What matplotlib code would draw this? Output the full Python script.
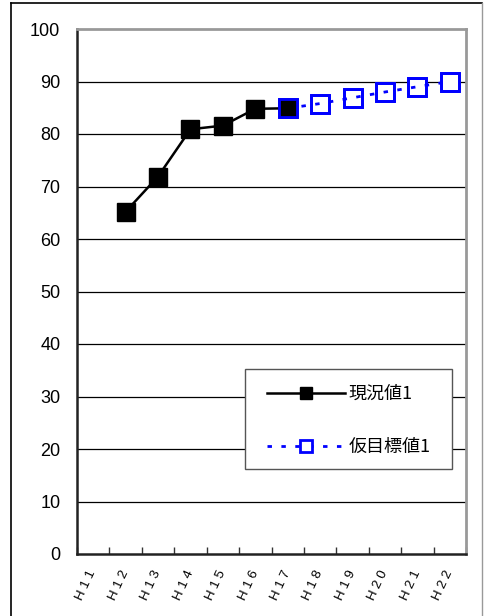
import matplotlib
matplotlib.use("Agg")
import matplotlib.pyplot as plt
from matplotlib.lines import Line2D
from matplotlib.patches import Rectangle
import numpy as np

# data
categories = ["H11", "H12", "H13", "H14", "H15", "H16", "H17",
              "H18", "H19", "H20", "H21", "H22"]
actual = [None, 65.2, 71.9, 80.9, 81.6, 84.8, 84.9, None, None, None, None, None]
target = [None, None, None, None, None, None, 84.9, 85.8, 86.9, 88.0, 89.0, 90.0]
series_names = ["現況値1", "仮目標値1"]
y_ticks = [0, 10, 20, 30, 40, 50, 60, 70, 80, 90, 100]

plt.rcParams["font.family"] = ["Liberation Sans", "DejaVu Sans"]
W, H = 484, 616
fig = plt.figure(figsize=(W / 100, H / 100), dpi=100)

# outer frame of the chart object
fig.add_artist(Line2D([11 / W, 11 / W], [0, 1 - 3 / H], transform=fig.transFigure,
                      color="black", lw=1.2))
fig.add_artist(Line2D([11 / W, 482 / W], [1 - 3 / H, 1 - 3 / H], transform=fig.transFigure,
                      color="black", lw=1.2))
fig.add_artist(Line2D([482 / W, 482 / W], [0, 1 - 3 / H], transform=fig.transFigure,
                      color="#999999", lw=1.0))

ax_l, ax_b, ax_w, ax_h = 77, 62, 389, 525
ax = fig.add_axes([ax_l / W, ax_b / H, ax_w / W, ax_h / H])

x = np.arange(len(categories))
a = np.array([np.nan if v is None else v for v in actual], dtype=float)
t = np.array([np.nan if v is None else v for v in target], dtype=float)

# gridlines
for yv in y_ticks[1:-1]:
    ax.axhline(yv, color="black", lw=0.9, zorder=0)

ms = 12.5
dash = (1.6, 3.4)
# target markers (white fill) and dotted line
ax.plot(x, t, linestyle="none", marker="s", ms=ms, mfc="white", mec="#0000ff",
        mew=2.0, zorder=2)
ax.plot(x, t, color="#0000ff", lw=2.0, dashes=dash, zorder=2.5)
# actual series
ax.plot(x, a, color="black", lw=1.8, marker="s", ms=ms, mfc="black", mec="black",
        zorder=3)
# target marker outlines on top
ax.plot(x, t, linestyle="none", marker="s", ms=ms, mfc="none", mec="#0000ff",
        mew=2.0, zorder=4)

ax.set_xlim(-0.5, len(categories) - 0.5)
ax.set_ylim(0, 100)

# category boundary ticks
ax.set_xticks(np.arange(-0.5, len(categories), 1.0))
ax.set_xticklabels([])
ax.tick_params(axis="x", which="major", direction="in", length=5, width=1, color="#333333")
ax.set_xticks(x, minor=True)
ax.set_xticklabels([])
ax.tick_params(axis="x", which="minor", length=0)

for xi, lab in zip(x, categories):
    ax.annotate(" ".join(lab), xy=(xi, 0), xycoords=("data", "axes fraction"),
                xytext=(0, -17), textcoords="offset pixels",
                rotation=65, rotation_mode="anchor", ha="right", va="center",
                fontsize=9.5, family=["Liberation Sans", "DejaVu Sans"])

ax.set_yticks(y_ticks)
ax.set_yticklabels([str(v) for v in y_ticks], fontsize=13)
ax.tick_params(axis="y", length=0, pad=12)

for side in ["top", "right"]:
    ax.spines[side].set_color("#999999")
    ax.spines[side].set_linewidth(2.0)
for side in ["left", "bottom"]:
    ax.spines[side].set_color("#222222")
    ax.spines[side].set_linewidth(1.8)

# legend box
box_l, box_r, box_t, box_b = 245, 452, 369, 469
ax.add_patch(Rectangle(((box_l - ax_l) / ax_w, (H - box_b - ax_b) / ax_h),
                       (box_r - box_l) / ax_w, (box_b - box_t) / ax_h,
                       transform=ax.transAxes, facecolor="white", edgecolor="#555555",
                       lw=1.0, zorder=9))

h1 = Line2D([], [], color="black", lw=1.8, marker="s", ms=ms, mfc="black", mec="black")
h2 = Line2D([], [], color="#0000ff", lw=2.0, dashes=dash, marker="s", ms=ms,
            mfc="white", mec="#0000ff", mew=2.0)
leg = ax.legend([h1, h2], series_names, loc="upper left",
                bbox_to_anchor=((267 - ax_l) / ax_w, (H - 385 - ax_b) / ax_h),
                borderaxespad=0, borderpad=0, frameon=False,
                prop={"family": ["Noto Sans CJK JP", "DejaVu Sans"], "size": 13},
                handlelength=4.3, handletextpad=0.2, labelspacing=1.94,
                markerscale=0.7, numpoints=1)
leg.set_zorder(10)

fig.savefig("out.png", dpi=100)
